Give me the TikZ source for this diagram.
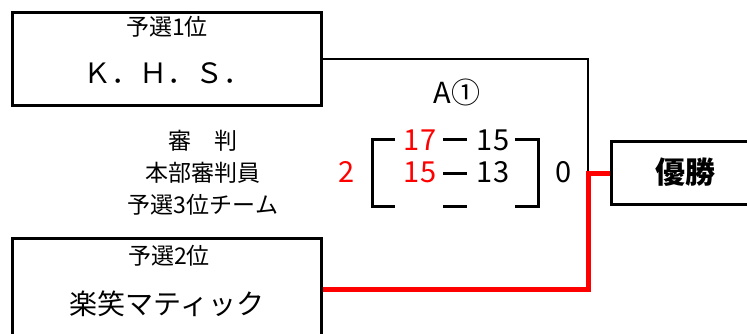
\documentclass[tikz,border=0pt]{standalone}
\usepackage{fontspec}
\setmainfont{Noto Sans CJK JP}
\usepackage{xcolor}

\begin{document}
\begin{tikzpicture}[x=1pt,y=-1pt,
  teambox/.style={draw,line width=3pt,inner sep=0pt},
  lbl/.style={inner sep=0pt,font=\fontsize{23}{23}\selectfont},
  big/.style={inner sep=0pt,font=\fontsize{28}{28}\selectfont},
  score/.style={inner sep=0pt,font=\fontsize{29}{29}\selectfont},
  win/.style={red,line width=5pt},
  lose/.style={line width=2.5pt},
  brk/.style={line width=3pt}]
\useasboundingbox (0,0) rectangle (747,334);
\node[teambox,minimum width=309pt,minimum height=93pt] (ksbox) at (167,59) {};
\node[teambox,minimum width=309pt,minimum height=101pt] (rmbox) at (167,289) {};
\node[teambox,minimum width=159pt,minimum height=63pt] (winbox) at (691,173) {};
\coordinate (jn) at (588,173);
\draw[lose] (ksbox.east) -| (jn);
\draw[win] (rmbox.east) -| (jn) -- (winbox.west);
% score sheet
\draw[brk] (395,140) -| (372,206) -- (395,206);
\draw[brk] (515,140) -| (538,206) -- (515,206);
\foreach \y in {140,173,206}
  \draw[brk] (443,\y) -- (467,\y);
\node[lbl] (ks1) at (167,27) {予選1位};
\node[big] (ksname) at (167,73.5) {Ｋ．Ｈ．Ｓ．};
\node[score] (game) at (457,92) {A①};
\node[lbl] (ref1) at (203,141) {審　判};
\node[lbl] (ref2) at (203,173) {本部審判員};
\node[lbl] (ref3) at (203,205) {予選3位チーム};
\node[lbl] (rm2) at (169,256) {予選2位};
\node[big] (rmname) at (167,304) {楽笑マティック};
\node[score,red] (setrm) at (347,172) {2};
\node[score] (setks) at (564,172) {0};
\node[score,red] (p1rm) at (420,140) {17};
\node[score] (p1ks) at (493,140) {15};
\node[score,red] (p2rm) at (420,172) {15};
\node[score] (p2ks) at (493,172) {13};
\node[inner sep=0pt,font=\fontsize{30}{30}\selectfont\bfseries] (winlbl) at (685,172) {優勝};
\end{tikzpicture}
\end{document}
